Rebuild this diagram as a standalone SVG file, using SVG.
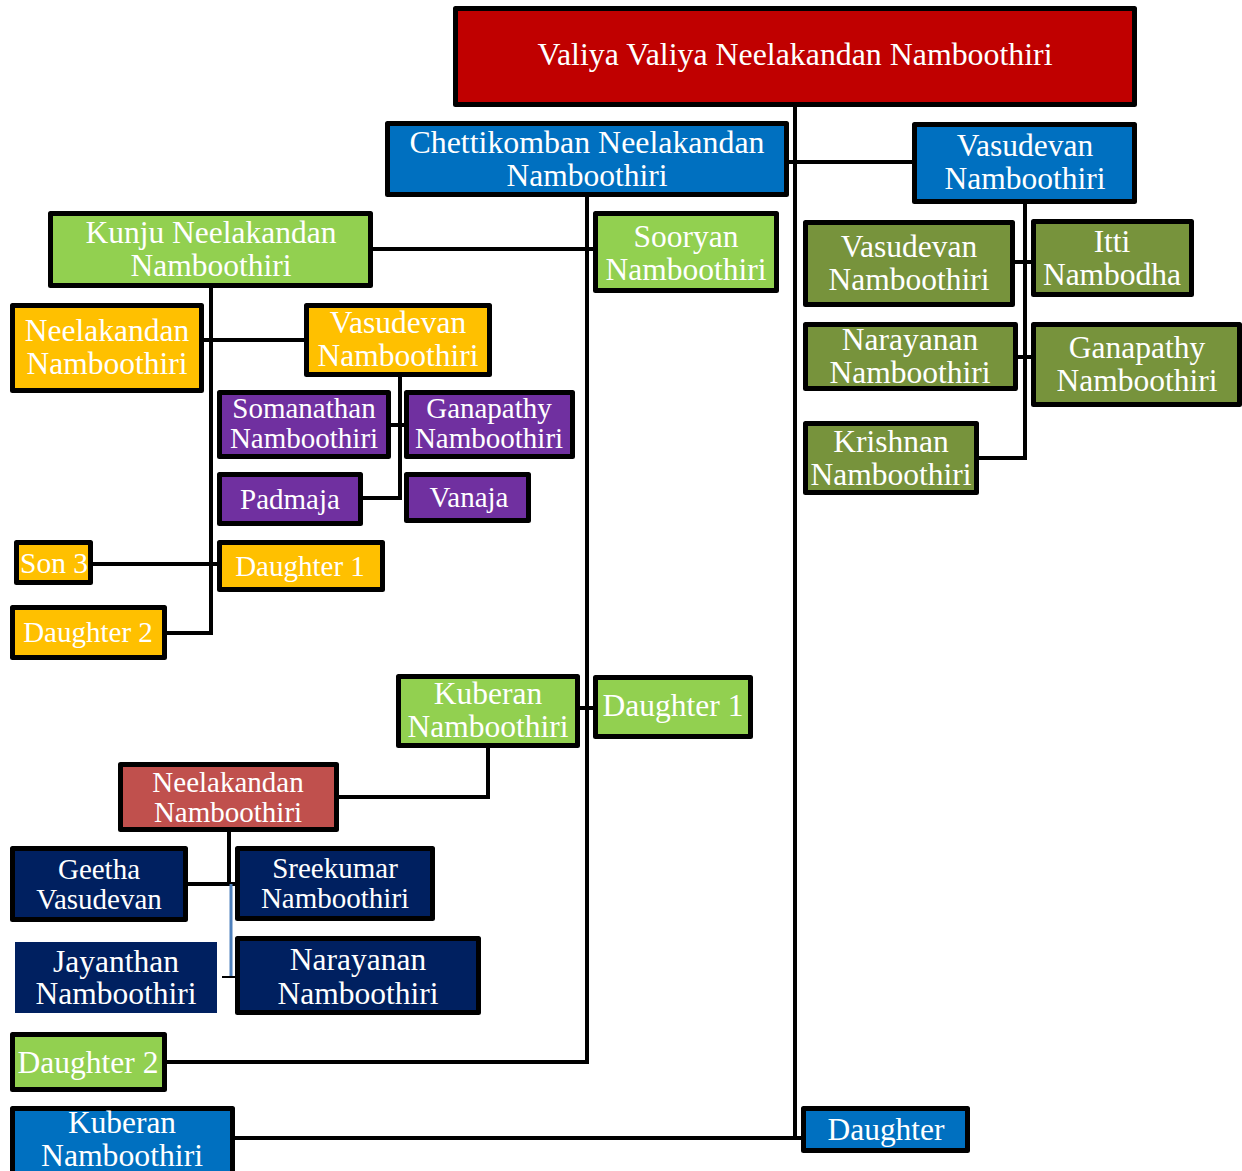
<svg xmlns="http://www.w3.org/2000/svg" width="1242" height="1171" viewBox="0 0 1242 1171">
<style>
.b{stroke:#000;stroke-width:5;stroke-linejoin:round}
.red{fill:#C00000}.blue{fill:#0070C0}.green{fill:#92D050}.olive{fill:#77933C}.yel{fill:#FFC000}.pur{fill:#7030A0}.rose{fill:#C0504D}.navy{fill:#002060}
text{font-family:"Liberation Serif","Times New Roman",serif;font-size:31.5px;fill:#fff;text-anchor:middle}
.s{font-size:29px}
.c{stroke:#000;stroke-width:4;fill:none}
</style>
<rect width="1242" height="1171" fill="#fff"/>
<g id="connectors">
<path class="c" d="M795,107V1138H803"/>
<path class="c" d="M789,162H912"/>
<path class="c" d="M1025,204V458H979M1015,262H1031M1018,357H1031"/>
<path class="c" d="M587,197V1062H167M373,249H593M580,708H593"/>
<path class="c" d="M488,748V797H339"/>
<path class="c" d="M211,288V633H167M204,340H304M93,564H217"/>
<path class="c" d="M400,377V498H363M391,425H404"/>
<path class="c" d="M229,832V884M188,884H235"/>
<path d="M231,884V976" stroke="#4F81BD" stroke-width="3" fill="none"/>
<path d="M222,977H235" stroke="#000" stroke-width="2" fill="none"/>
<path class="c" d="M235,1138H795"/>
</g>
<g id="root"><rect class="b red" x="455.5" y="8.5" width="679" height="96"/><text x="795" y="65" textLength="515" lengthAdjust="spacingAndGlyphs">Valiya Valiya Neelakandan Namboothiri</text></g>
<g id="chettikomban"><rect class="b blue" x="387.5" y="123.5" width="399" height="71"/><text x="587" y="153" textLength="355" lengthAdjust="spacingAndGlyphs">Chettikomban Neelakandan</text><text x="587" y="186">Namboothiri</text></g>
<g id="vasudevan-top"><rect class="b blue" x="914.5" y="124.5" width="220" height="77"/><text x="1025" y="156">Vasudevan</text><text x="1025" y="189">Namboothiri</text></g>
<g id="kunju"><rect class="b green" x="50.5" y="213.5" width="320" height="72"/><text x="211" y="243">Kunju Neelakandan</text><text x="211" y="276">Namboothiri</text></g>
<g id="sooryan"><rect class="b green" x="595.5" y="213.5" width="181" height="77"/><text x="686" y="247">Sooryan</text><text x="686" y="280">Namboothiri</text></g>
<g id="vasudevan-olive"><rect class="b olive" x="805.5" y="222.5" width="207" height="82"/><text x="909" y="257">Vasudevan</text><text x="909" y="290">Namboothiri</text></g>
<g id="itti"><rect class="b olive" x="1033.5" y="221.5" width="158" height="73"/><text x="1112" y="252">Itti</text><text x="1112" y="285">Nambodha</text></g>
<g id="narayanan-olive"><rect class="b olive" x="805.5" y="324.5" width="210" height="64"/><text x="910" y="350">Narayanan</text><text x="910" y="383">Namboothiri</text></g>
<g id="ganapathy-olive"><rect class="b olive" x="1033.5" y="324.5" width="206" height="80"/><text x="1137" y="358">Ganapathy</text><text x="1137" y="391">Namboothiri</text></g>
<g id="krishnan"><rect class="b olive" x="805.5" y="423.5" width="171" height="69"/><text x="891" y="452">Krishnan</text><text x="891" y="485">Namboothiri</text></g>
<g id="neelakandan-yellow"><rect class="b yel" x="12.5" y="305.5" width="189" height="85"/><text x="107" y="341">Neelakandan</text><text x="107" y="374">Namboothiri</text></g>
<g id="vasudevan-yellow"><rect class="b yel" x="306.5" y="305.5" width="183" height="69"/><text x="398" y="333">Vasudevan</text><text x="398" y="366">Namboothiri</text></g>
<g id="somanathan"><rect class="b pur" x="219.5" y="392.5" width="169" height="64"/><text class="s" x="304" y="418">Somanathan</text><text class="s" x="304" y="448">Namboothiri</text></g>
<g id="ganapathy-purple"><rect class="b pur" x="406.5" y="392.5" width="166" height="64"/><text class="s" x="489" y="418">Ganapathy</text><text class="s" x="489" y="448">Namboothiri</text></g>
<g id="padmaja"><rect class="b pur" x="219.5" y="474.5" width="141" height="49"/><text class="s" x="290" y="509">Padmaja</text></g>
<g id="vanaja"><rect class="b pur" x="406.5" y="474.5" width="122" height="46"/><text class="s" x="469" y="507">Vanaja</text></g>
<g id="son3"><rect class="b yel" x="16.5" y="542.5" width="74" height="40"/><text class="s" x="54" y="573" textLength="68" lengthAdjust="spacingAndGlyphs">Son 3</text></g>
<g id="daughter1-yellow"><rect class="b yel" x="219.5" y="542.5" width="163" height="47"/><text class="s" x="300" y="576">Daughter 1</text></g>
<g id="daughter2-yellow"><rect class="b yel" x="12.5" y="607.5" width="152" height="50"/><text class="s" x="88" y="642">Daughter 2</text></g>
<g id="kuberan-green"><rect class="b green" x="398.5" y="676.5" width="179" height="69"/><text x="488" y="704">Kuberan</text><text x="488" y="737">Namboothiri</text></g>
<g id="daughter1-green"><rect class="b green" x="595.5" y="677.5" width="155" height="59"/><text x="673" y="716">Daughter 1</text></g>
<g id="neelakandan-red"><rect class="b rose" x="120.5" y="764.5" width="216" height="65"/><text class="s" x="228" y="792">Neelakandan</text><text class="s" x="228" y="822">Namboothiri</text></g>
<g id="geetha"><rect class="b navy" x="12.5" y="848.5" width="173" height="71"/><text class="s" x="99" y="879">Geetha</text><text class="s" x="99" y="909">Vasudevan</text></g>
<g id="sreekumar"><rect class="b navy" x="237.5" y="848.5" width="195" height="70"/><text class="s" x="335" y="878">Sreekumar</text><text class="s" x="335" y="908">Namboothiri</text></g>
<g id="jayanthan"><rect class="navy" x="15" y="942" width="202" height="71"/><text x="116" y="972">Jayanthan</text><text x="116" y="1004">Namboothiri</text></g>
<g id="narayanan-navy"><rect class="b navy" x="237.5" y="938.5" width="241" height="74"/><text x="358" y="970">Narayanan</text><text x="358" y="1004">Namboothiri</text></g>
<g id="daughter2-green"><rect class="b green" x="12.5" y="1034.5" width="152" height="55"/><text x="88" y="1073" textLength="141" lengthAdjust="spacingAndGlyphs">Daughter 2</text></g>
<g id="kuberan-blue"><rect class="b blue" x="12.5" y="1108.5" width="220" height="65"/><text x="122" y="1133" textLength="108" lengthAdjust="spacingAndGlyphs">Kuberan</text><text x="122" y="1166" textLength="162" lengthAdjust="spacingAndGlyphs">Namboothiri</text></g>
<g id="daughter-blue"><rect class="b blue" x="803.5" y="1108.5" width="164" height="42"/><text x="886" y="1140" textLength="117" lengthAdjust="spacingAndGlyphs">Daughter</text></g>
</svg>
